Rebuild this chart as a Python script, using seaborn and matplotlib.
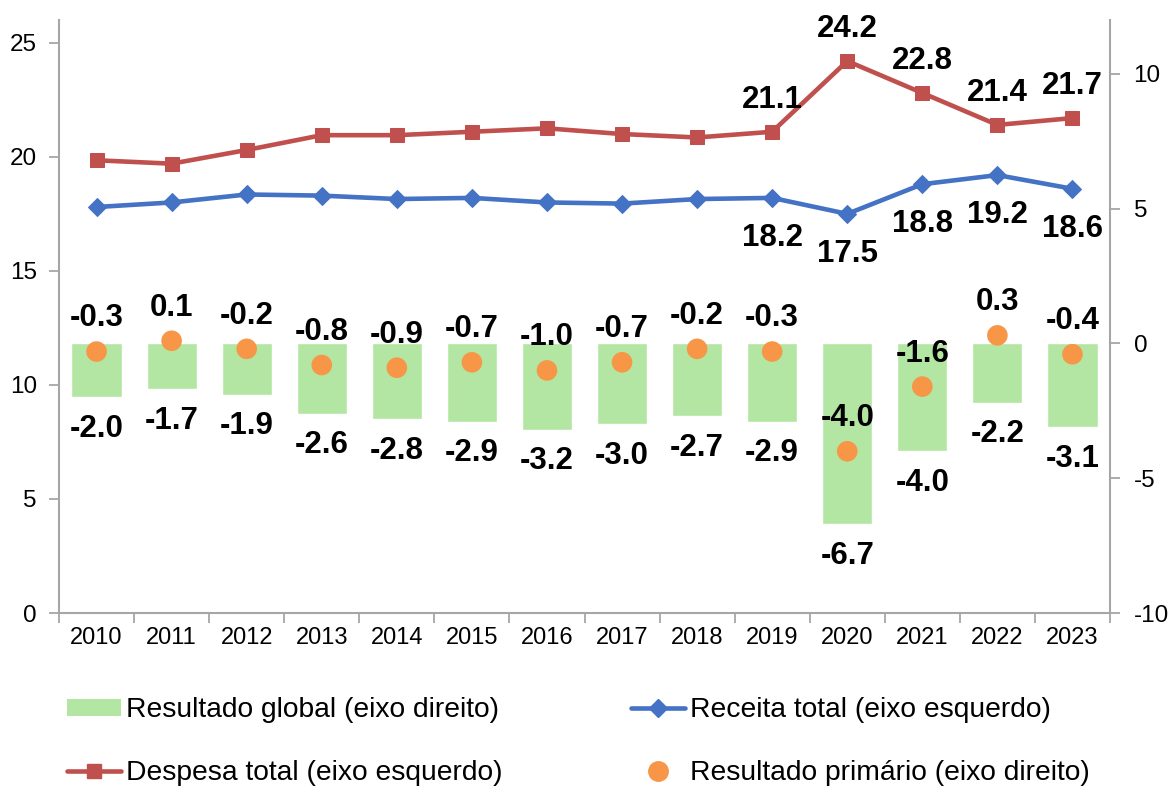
import numpy as np
import pandas as pd
import matplotlib
matplotlib.use("Agg")
import matplotlib.pyplot as plt
from matplotlib.lines import Line2D
from matplotlib.patches import Patch
import seaborn as sns

years = ["2010", "2011", "2012", "2013", "2014", "2015", "2016",
         "2017", "2018", "2019", "2020", "2021", "2022", "2023"]
receita = [17.8, 18.0, 18.35, 18.3, 18.15, 18.2, 18.0, 17.95, 18.15, 18.2, 17.5, 18.8, 19.2, 18.6]
despesa = [19.85, 19.7, 20.3, 20.95, 20.95, 21.1, 21.25, 21.0, 20.85, 21.1, 24.2, 22.8, 21.4, 21.7]
global_res = [-2.0, -1.7, -1.9, -2.6, -2.8, -2.9, -3.2, -3.0, -2.7, -2.9, -6.7, -4.0, -2.2, -3.1]
primario = [-0.3, 0.1, -0.2, -0.8, -0.9, -0.7, -1.0, -0.7, -0.2, -0.3, -4.0, -1.6, 0.3, -0.4]
label_start = 9  # line labels from 2019 onwards

sns.set_theme(style="white")
plt.rcParams['font.family'] = ['Liberation Sans', 'DejaVu Sans']
plt.rcParams['axes.unicode_minus'] = False
plt.rcParams['text.color'] = 'black'
plt.rcParams['xtick.color'] = 'black'
plt.rcParams['ytick.color'] = 'black'
plt.rcParams['axes.labelcolor'] = 'black'

C_RED = "#C0504D"
C_BLUE = "#4472C4"
C_GREEN = "#B3E6A3"
C_ORANGE = "#F79646"
C_AX = "#A6A6A6"

fig = plt.figure(figsize=(11.68, 7.87), dpi=100)
ax = fig.add_axes([59/1168, 1 - 613/787, (1110-59)/1168, (613-20)/787])
ax2 = ax.twinx()

pos = np.arange(len(years))
df = pd.DataFrame({"year": years, "pos": pos, "receita": receita, "despesa": despesa,
                   "global": global_res, "primario": primario})

# bars (right axis)
sns.barplot(data=df, x="pos", y="global", ax=ax2, color=C_GREEN, width=0.667,
            saturation=1, native_scale=True, zorder=1)
# primary result dots (right axis)
sns.scatterplot(data=df, x="pos", y="primario", ax=ax2, color=C_ORANGE, s=220,
                edgecolor="none", zorder=3, legend=False)

# lines (left axis)
sns.lineplot(data=df, x="pos", y="receita", ax=ax, color=C_BLUE, lw=3.3,
             marker="D", markersize=9.5, markeredgecolor=C_BLUE, sort=False)
sns.lineplot(data=df, x="pos", y="despesa", ax=ax, color=C_RED, lw=3.3,
             marker="s", markersize=10, markeredgecolor=C_RED, sort=False)

ax.set_ylim(0, 26)
ax2.set_ylim(-10, 12)
ax.set_xlim(-0.5, len(years) - 0.5)
ax2.set_xlim(-0.5, len(years) - 0.5)

ax.set_yticks([0, 5, 10, 15, 20, 25])
ax2.set_yticks([-10, -5, 0, 5, 10])
ax.set_xticks(pos)
ax.set_xticklabels(years)
ax.set_xticks(np.arange(-0.5, len(years), 1), minor=True)
ax.tick_params(axis="x", which="major", length=0, labelsize=17, pad=10, colors="black")
ax.tick_params(axis="x", which="minor", length=7, width=1.3, color=C_AX, direction="out", bottom=True)
ax.tick_params(axis="y", which="major", length=7, width=1.3, color=C_AX, labelsize=17.5, pad=9,
               labelcolor="black", left=True)
ax2.tick_params(axis="y", which="major", length=7, width=1.3, color=C_AX, labelsize=17.5, pad=10,
                labelcolor="black", right=True)
ax2.tick_params(axis="x", length=0)

for a in (ax, ax2):
    a.set_xlabel("")
    a.set_ylabel("")
    a.grid(False)
    a.spines["top"].set_visible(False)
    for s in ("left", "right", "bottom"):
        a.spines[s].set_color(C_AX)
        a.spines[s].set_linewidth(1.5)
ax.spines["right"].set_visible(False)
ax2.spines["left"].set_visible(False)
ax2.spines["bottom"].set_visible(False)
ax2.patch.set_visible(False)

lbl = dict(fontsize=22.5, fontweight="bold", ha="center", color="black",
           textcoords="offset points", annotation_clip=False)

for i in range(len(years)):
    # bar labels below bar end
    ax2.annotate(f"{global_res[i]:.1f}", (pos[i], global_res[i]), xytext=(0, -12), va="top", **lbl)
    # primary labels above point
    ax2.annotate(f"{primario[i]:.1f}", (pos[i], primario[i]), xytext=(0, 13), va="bottom", **lbl)
    if i >= label_start:
        ax.annotate(f"{despesa[i]:.1f}", (pos[i], despesa[i]), xytext=(0, 12), va="bottom", **lbl)
        ax.annotate(f"{receita[i]:.1f}", (pos[i], receita[i]), xytext=(0, -18), va="top", **lbl)

handles = [
    Patch(facecolor=C_GREEN, edgecolor="none", label="Resultado global (eixo direito)"),
    Line2D([], [], color=C_RED, lw=3.3, marker="s", markersize=10, label="Despesa total (eixo esquerdo)"),
    Line2D([], [], color=C_BLUE, lw=3.3, marker="D", markersize=9.5, label="Receita total (eixo esquerdo)"),
    Line2D([], [], color=C_ORANGE, lw=0, marker="o", markersize=14, label="Resultado primário (eixo direito)"),
]
fig.legend(handles=handles, ncol=2, loc="upper left", bbox_to_anchor=(67/1168, 1 - 697/787),
           frameon=False, fontsize=20.3, handlelength=1.9, handleheight=0.55, handletextpad=0.2,
           columnspacing=4.55, labelspacing=1.32, borderaxespad=0, borderpad=0)

fig.savefig("out.png", dpi=100)
